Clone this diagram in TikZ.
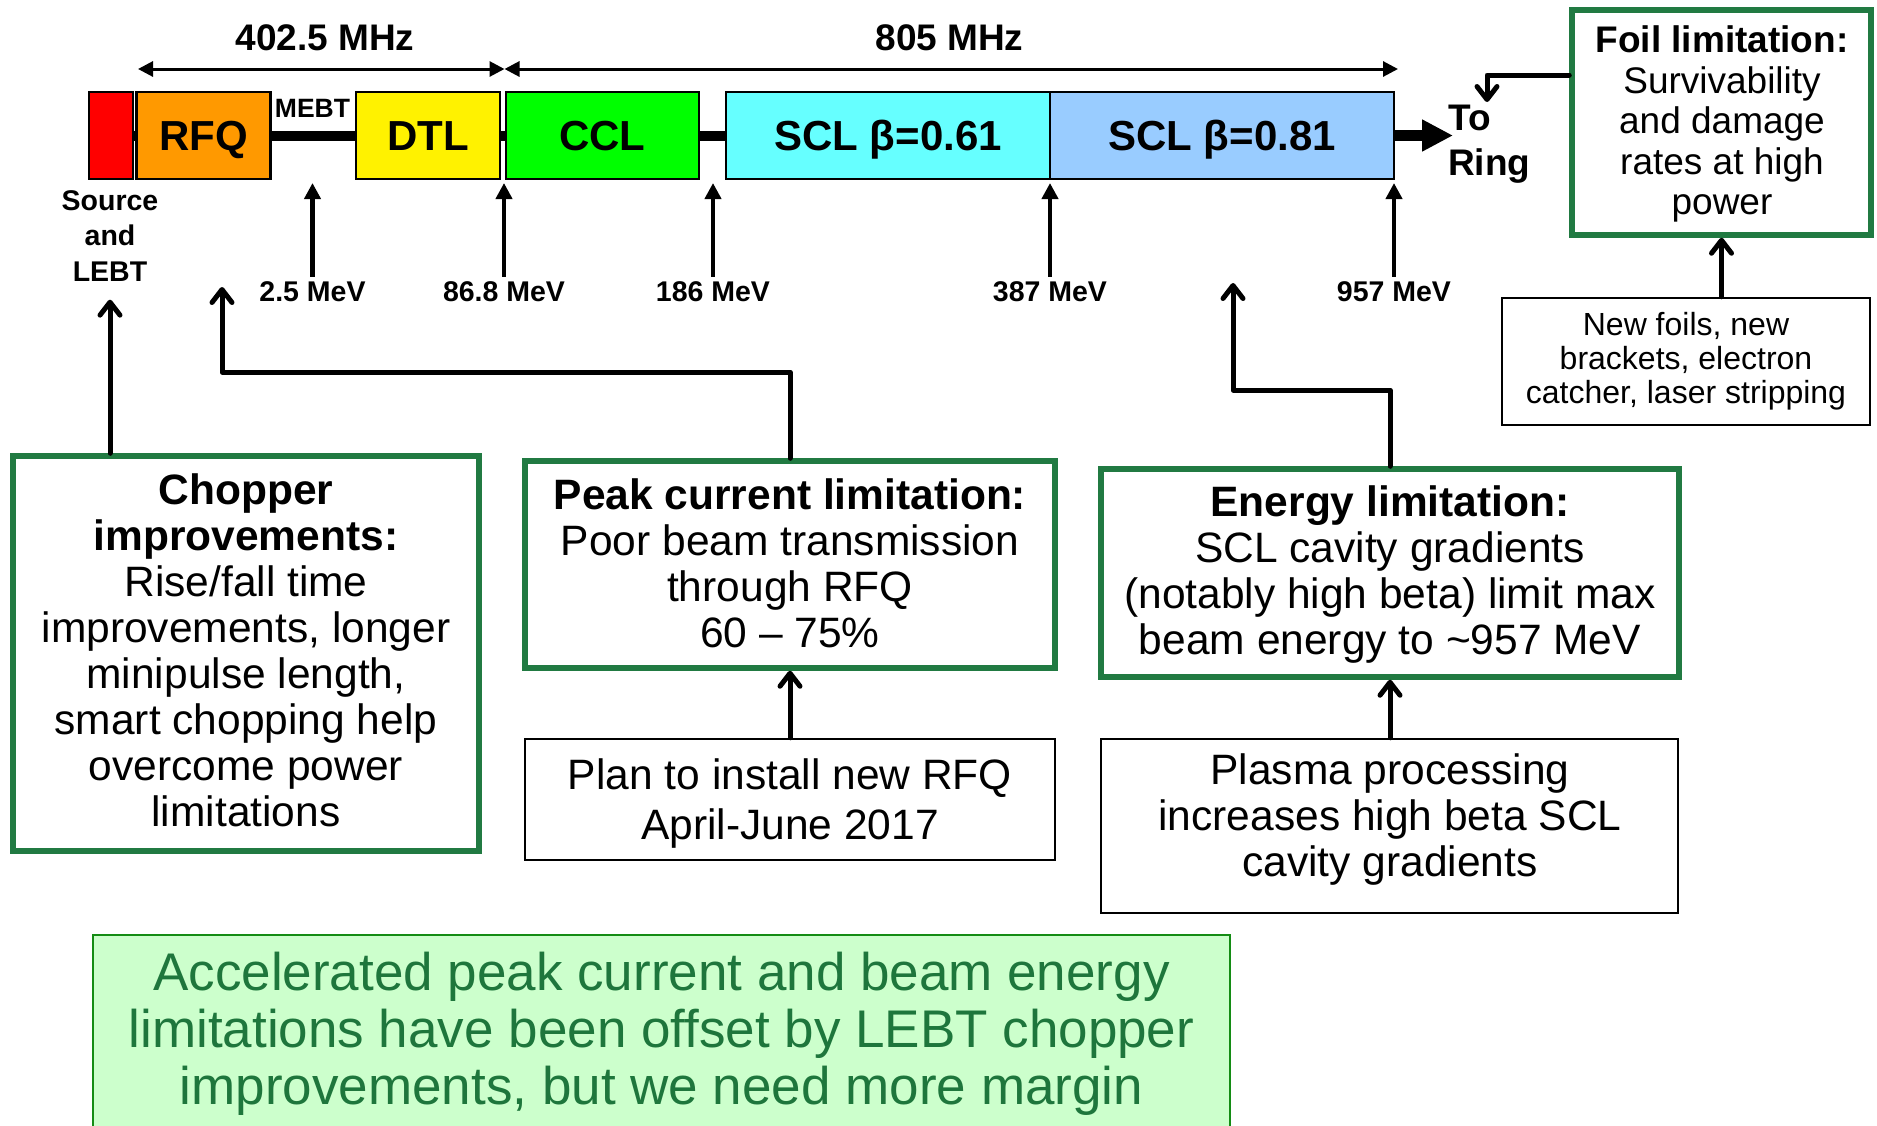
\documentclass[tikz,border=0pt]{standalone}
\usepackage{fontspec}
\setmainfont{Liberation Sans}
\usetikzlibrary{arrows.meta,backgrounds,calc}

\definecolor{boxgreen}{RGB}{33,122,66}
\definecolor{sumgreen}{RGB}{30,118,60}
\definecolor{sumfill}{RGB}{204,255,204}
\definecolor{sumedge}{RGB}{20,140,20}
\definecolor{rfqorange}{RGB}{255,153,0}
\definecolor{cclgreen}{RGB}{0,255,0}
\definecolor{sclcyan}{RGB}{102,255,255}
\definecolor{sclblue}{RGB}{153,204,255}

\newcommand\fsz[2]{\fontsize{#1pt}{#2pt}\selectfont}

\begin{document}
\begin{tikzpicture}[x=1pt,y=-1pt,
  accel/.style={draw=black,line width=2.5pt,minimum height=87pt,inner sep=0pt,
    text height=30pt,text depth=0pt,font=\fsz{42}{46}\bfseries},
  gbox/.style={draw=boxgreen,line width=5.5pt,inner sep=0pt},
  pbox/.style={draw=black,line width=2.5pt,inner sep=0pt},
  btext/.style={align=center,inner sep=0pt,font=\fsz{42.5}{46}},
  lab/.style={font=\fsz{28.5}{35.5}\bfseries,inner sep=0pt,anchor=base},
  conn/.style={line width=5pt,line cap=round,line join=round,
    -{Straight Barb[round,length=13pt,width=20pt]}},
  earrow/.style={line width=4.5pt,-{Triangle[length=16pt,width=16pt]}},
  farrow/.style={line width=3pt,{Triangle[length=15pt,width=15pt]}-{Triangle[length=15pt,width=15pt]}}]

\useasboundingbox (0,0) rectangle (1877,1125);

% ---- linac sections ----
\node[accel,fill=red,minimum width=44pt] (src) at (111,135.5) {};
\node[accel,fill=rfqorange,minimum width=134pt] (rfq) at (203.5,135.5) {RFQ};
\node[accel,fill=yellow,minimum width=144pt] (dtl) at (428,135.5) {DTL};
\node[accel,fill=cclgreen,minimum width=193pt] (ccl) at (602.5,135.5) {CCL};
\node[accel,fill=sclcyan,minimum width=324pt] (scla) at (888,135.5) {SCL β=0.61};
\node[accel,fill=sclblue,minimum width=344pt] (sclb) at (1222,135.5) {SCL β=0.81};

\begin{scope}[on background layer]
  \draw[line width=10pt] (src.center) -- (scla.center);
\end{scope}

\node[font=\fsz{26.5}{30}\bfseries,inner sep=0pt,anchor=base] (mebt) at (312.5,117) {MEBT};
\node[lab,align=center,anchor=center] (srclab) at (110,236) {Source\\and\\LEBT};

% beam out to the ring
\node[font=\fsz{37}{45}\bfseries,align=left,inner sep=0pt,anchor=west] (ring) at (1448,144) {To\\Ring};
\coordinate (ringin) at (1453,135.5);
\draw[line width=11pt,-{Triangle[length=31pt,width=30pt]}] (sclb.east) -- (ringin);

% ---- RF frequencies ----
\node[font=\fsz{37}{40}\bfseries,anchor=base,inner sep=0pt] (fa) at (325,50) {402.5 MHz};
\node[font=\fsz{37}{40}\bfseries,anchor=base,inner sep=0pt] (fb) at (949.5,50) {805 MHz};
\coordinate (fleft) at (138,69);
\coordinate (fmid) at (504.5,69);
\coordinate (fright) at (1398,69);
\draw[farrow] (fleft) -- (fmid);
\draw[farrow] (fmid) -- (fright);

% ---- beam energies ----
\node[lab] (e1) at (312.5,301) {2.5 MeV};
\node[lab] (e2) at (504,301) {86.8 MeV};
\node[lab] (e3) at (713,301) {186 MeV};
\node[lab] (e4) at (1050,301) {387 MeV};
\node[lab] (e5) at (1394,301) {957 MeV};
\coordinate (t1) at (312.5,183);
\coordinate (t2) at (504,183);
\coordinate (t3) at (713,183);
\coordinate (t4) at (1050,183);
\coordinate (t5) at (1394,183);
\foreach \i in {1,...,5}{\draw[earrow] ([yshift=4pt]e\i.north) -- (t\i);}

% ---- limitation boxes ----
\node[gbox,minimum width=466pt,minimum height=395pt] (chop) at (246,653.5) {};
\node[btext] (choptxt) at (246,650) {\textbf{Chopper}\\\textbf{improvements:}\\Rise/fall time\\improvements, longer\\minipulse length,\\smart chopping help\\overcome power\\limitations};

\node[gbox,minimum width=530pt,minimum height=207pt] (peak) at (790,564.5) {};
\node[btext] (peaktxt) at (790,563) {\textbf{Peak current limitation:}\\Poor beam transmission\\through RFQ\\60 – 75\%};

\node[pbox,minimum width=530pt,minimum height=121pt] (plan) at (790,799.5) {};
\node[btext,font=\fsz{42.5}{50}] (plantxt) at (790,803.5) {Plan to install new RFQ\\April-June 2017};

\node[gbox,minimum width=578pt,minimum height=208pt] (energy) at (1390,573) {};
\node[btext] (energytxt) at (1390,575) {\textbf{Energy limitation:}\\SCL cavity gradients\\(notably high beta) limit max\\beam energy to \textasciitilde957 MeV};

\node[pbox,minimum width=577pt,minimum height=174pt] (plasma) at (1389.5,826) {};
\node[btext,font=\fsz{42.5}{46}] (plasmatxt) at (1390,819.5) {Plasma processing\\increases high beta SCL\\cavity gradients};

\node[gbox,minimum width=299pt,minimum height=225pt] (foil) at (1721.5,122.5) {};
\node[btext,font=\fsz{37}{40.5}] (foiltxt) at (1722,124) {\textbf{Foil limitation:}\\Survivability\\and damage\\rates at high\\power};

\node[pbox,minimum width=368pt,minimum height=127pt] (newfoil) at (1686,361.5) {};
\node[btext,font=\fsz{32}{34}] (newfoiltxt) at (1686,361.5) {New foils, new\\brackets, electron\\catcher, laser stripping};

\node[draw=sumedge,fill=sumfill,line width=2pt,minimum width=1137pt,minimum height=198pt,
  align=center,inner sep=0pt,text=sumgreen,font=\fsz{53}{57}] (summary) at (661.5,1034)
  {Accelerated peak current and beam energy\\limitations have been offset by LEBT chopper\\improvements, but we need more margin};

% ---- connectors ----
\draw[conn] (chop.north -| srclab) -- ([yshift=-18pt]srclab.south);

\coordinate (rfqtip) at (222,287);
\coordinate (peakbend) at (222,372);
\draw[conn] (peak.north) |- (peakbend) -- (rfqtip);

\coordinate (entip) at (1233,283);
\coordinate (enbend) at (1233,390);
\draw[conn] (energy.north) |- (enbend) -- (entip);

\draw[conn] (plan.north) -- (peak.south);
\draw[conn] (plasma.north -| energy.south) -- (energy.south);
\draw[conn] (newfoil.north -| foil.south) -- (foil.south);

\coordinate (ringtip) at (1487,102);
\draw[conn] ([yshift=47.5pt]foil.west) -| (ringtip);

\end{tikzpicture}
\end{document}
